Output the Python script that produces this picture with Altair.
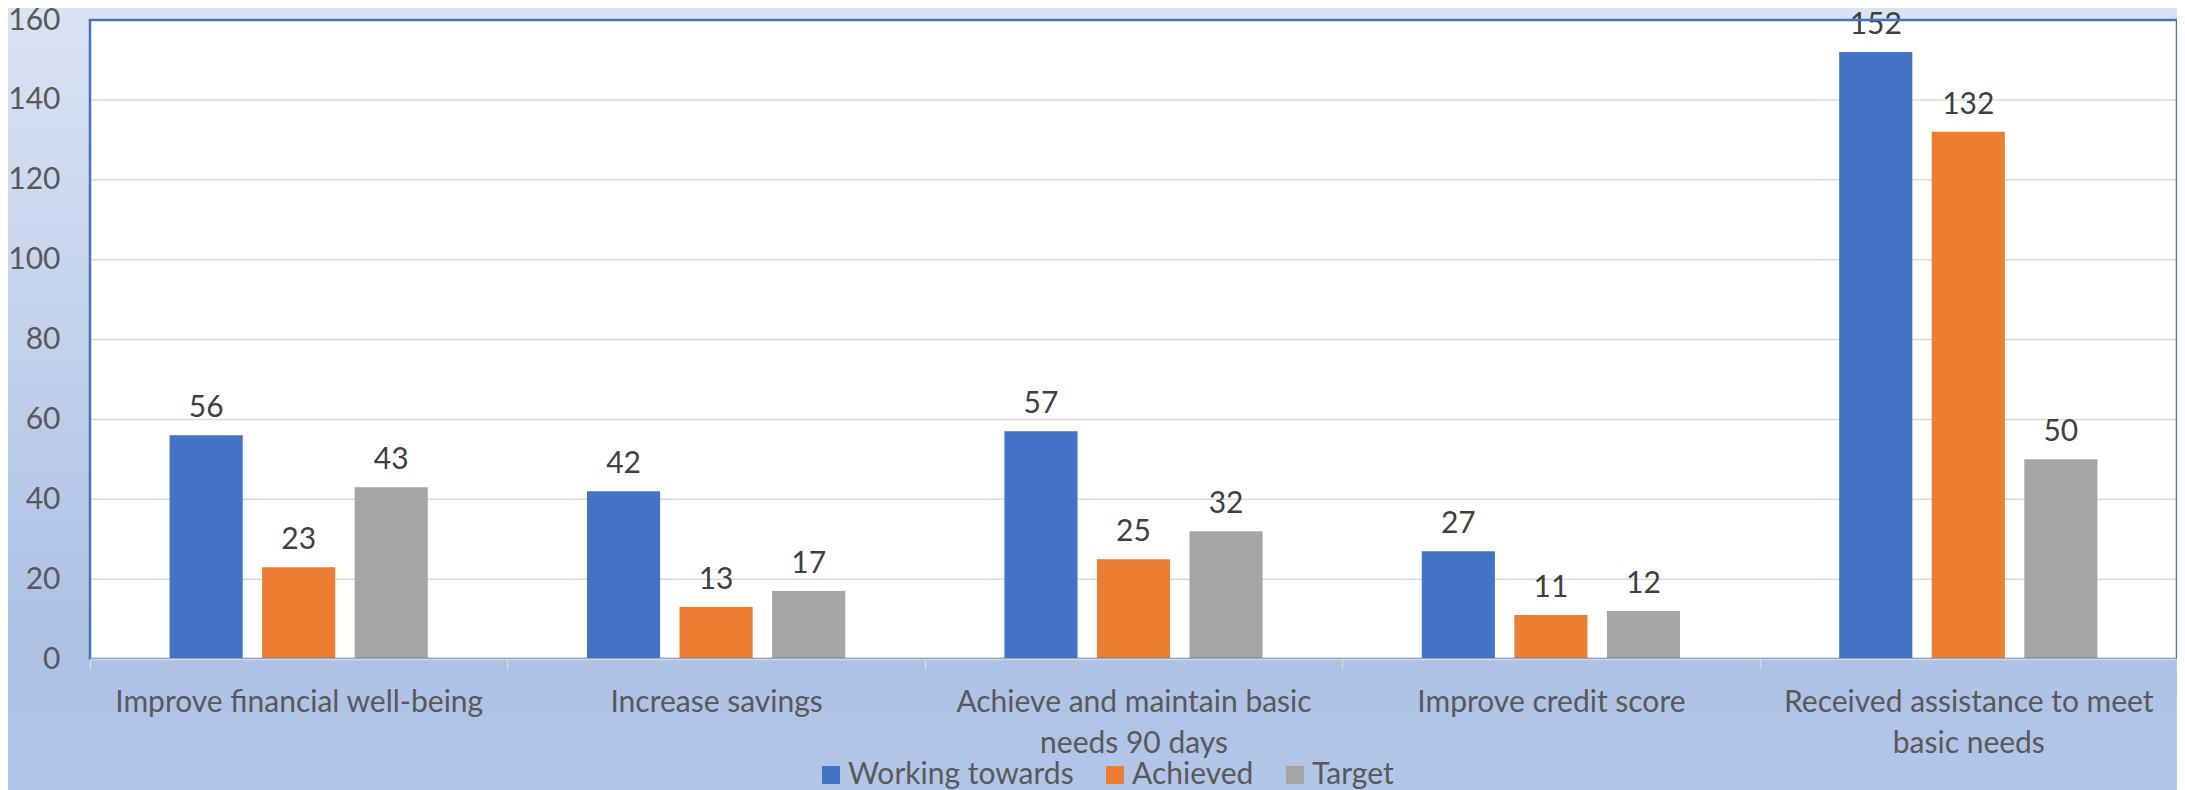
import altair as alt
import pandas as pd

categories = [
    "Improve financial well-being",
    "Increase savings",
    "Achieve and maintain basic needs 90 days",
    "Improve credit score",
    "Received assistance to meet basic needs",
]
series = ["Working towards", "Achieved", "Target"]
working_towards = [56, 42, 57, 27, 152]
achieved = [23, 13, 25, 11, 132]
target = [43, 17, 32, 12, 50]
y_ticks = [0, 20, 40, 60, 80, 100, 120, 140, 160]
colors = ["#4472C4", "#ED7D31", "#A5A5A5"]
wrapped = {
    "Achieve and maintain basic needs 90 days": ["Achieve and maintain basic", "needs 90 days"],
    "Received assistance to meet basic needs": ["Received assistance to meet", "basic needs"],
}

rows = []
for i, c in enumerate(categories):
    for s, vals in zip(series, [working_towards, achieved, target]):
        rows.append({"category": c, "series": s, "value": vals[i]})
df = pd.DataFrame(rows)

W, H = 2087, 639
FONT = "Lato"
FS = 30

label_expr = " : ".join(
    [f"datum.label == '{k}' ? {v!r}".replace('"', "'") for k, v in wrapped.items()]
) + " : datum.label"

x_enc = alt.X(
    "category:N",
    sort=categories,
    scale=alt.Scale(domain=categories, paddingInner=0, paddingOuter=0),
    axis=alt.Axis(
        title=None, labelAngle=0, tickBand="extent", tickSize=10, tickWidth=1.5,
        tickColor="#D9D9D9", domainColor="#D9D9D9", domainWidth=2,
        labelFont=FONT, labelFontSize=FS, labelColor="#595959",
        labelPadding=18, labelLineHeight=41, labelExpr=label_expr,
        grid=False, zindex=1, labelLimit=600,
    ),
)
y_axis = alt.Axis(
    title=None, values=y_ticks, ticks=False, domain=False, grid=False,
    labelFont=FONT, labelFontSize=FS, labelColor="#595959",
    labelPadding=30, zindex=1,
)
y_scale = alt.Scale(domain=[0, 160], nice=False)
y_enc = alt.Y("value:Q", scale=y_scale, axis=y_axis)
xoff = alt.XOffset(
    "series:N",
    scale=alt.Scale(domain=series, paddingInner=0.21, paddingOuter=0.86),
)

one = alt.Data(values=[{"k": 1}])

gradient = alt.LinearGradient(
    gradient="linear", x1=0, x2=0, y1=0, y2=1,
    stops=[
        alt.GradientStop(color="#DAE3F3", offset=0),
        alt.GradientStop(color="#ADC1E5", offset=0.8),
        alt.GradientStop(color="#B2C6E8", offset=1),
    ],
)
bg = alt.Chart(one).mark_rect(fill=gradient).encode(
    x=alt.value(-82), x2=alt.value(W + 10), y=alt.value(-12), y2=alt.value(H + 140)
)
plot_bg = alt.Chart(one).mark_rect(fill="white").encode(
    x=alt.value(0), x2=alt.value(W), y=alt.value(0), y2=alt.value(H)
)
grid_df = pd.DataFrame({"value": y_ticks[1:-1]})
grid = alt.Chart(grid_df).mark_rule(color="#D9D9D9", strokeWidth=1.5).encode(
    y=y_enc, x=alt.value(0), x2=alt.value(W),
)
bars = alt.Chart(df).mark_bar().encode(
    x=x_enc, y=y_enc, xOffset=xoff,
    color=alt.Color(
        "series:N",
        scale=alt.Scale(domain=series, range=colors),
        legend=alt.Legend(
            title=None, orient="none", legendX=726, legendY=740, direction="horizontal",
            symbolType="square", symbolSize=324, symbolStrokeWidth=0,
            labelFont=FONT, labelFontSize=FS, labelColor="#595959",
            columnPadding=26, labelOffset=2, labelLimit=400,
        ),
    ),
)
labels = alt.Chart(df).mark_text(
    font=FONT, fontSize=FS, color="#404040", baseline="alphabetic", dy=-18
).encode(x=x_enc, y=y_enc, xOffset=xoff, text="value:Q")
border = alt.Chart(one).mark_rect(fill=None, stroke="#4472C4", strokeWidth=2.5).encode(
    x=alt.value(0), x2=alt.value(W), y=alt.value(0), y2=alt.value(H)
)

chart = alt.layer(bg, plot_bg, grid, bars, labels, border).properties(
    width=W, height=H,
    autosize=alt.AutoSizeParams(type="none"),
    padding={"left": 82, "top": 12, "right": 0, "bottom": 131},
    background="#C4D3EC",
).configure_view(stroke=None)

chart.save("out.html", embed_options={"renderer": "svg", "actions": False})
